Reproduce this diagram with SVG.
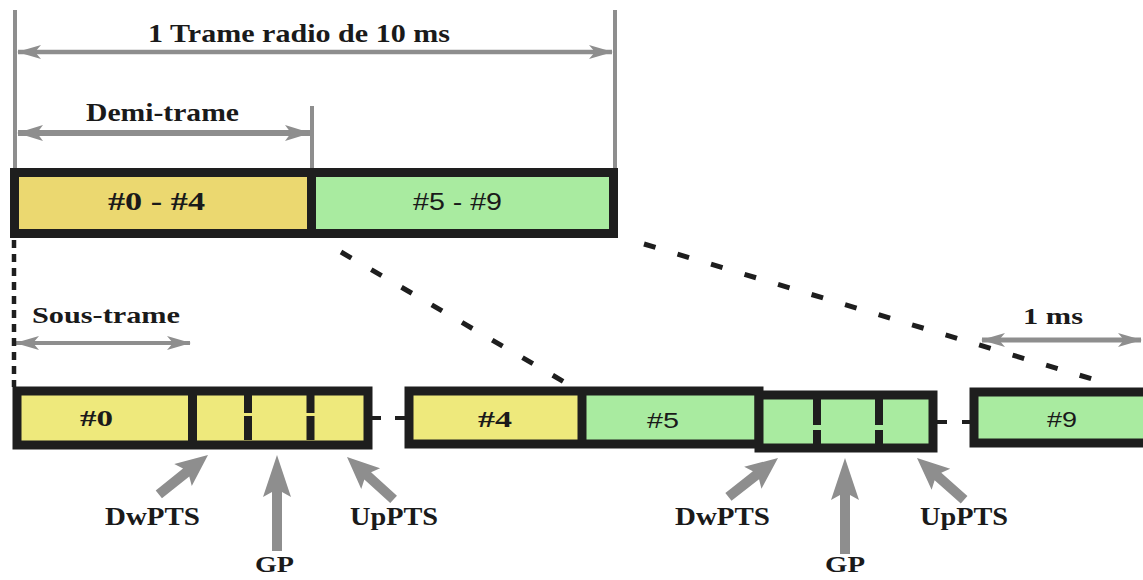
<svg xmlns="http://www.w3.org/2000/svg" width="1143" height="580" viewBox="0 0 1143 580">
<style>
.bg{fill:#ffffff}
.frm{stroke:#1e1e1e;stroke-width:9;}
.dv{stroke:#1e1e1e;stroke-width:9;}
.sdv{stroke:#1e1e1e;stroke-width:8;}
.y1{fill:#EBD870}
.y2{fill:#EEE97C}
.g{fill:#A9EBA0}
.gl{stroke:#8e8e8e;stroke-width:4;fill:none}
.dim{stroke:#8e8e8e;fill:none}
.dot{stroke:#1e1e1e;stroke-width:5;fill:none;stroke-dasharray:12 23}
.vdot{stroke:#1e1e1e;stroke-width:4.5;fill:none;stroke-dasharray:8 6}
.lnk{stroke:#1e1e1e;stroke-width:4}
.fat{fill:#8e8e8e}
.t{font-family:"Liberation Serif","Times New Roman",serif;font-weight:bold;fill:#1a1a1a}
.s{font-family:"Liberation Sans",Arial,sans-serif;fill:#1a1a1a}
</style>
<defs>
<marker id="ah" viewBox="0 0 24 14" refX="23" refY="7" markerWidth="24" markerHeight="14" markerUnits="userSpaceOnUse" orient="auto-start-reverse">
<path d="M0,0 L24,7 L0,14 L6,7 Z" fill="#8e8e8e"/>
</marker>
<marker id="ah2" viewBox="0 0 26 16" refX="25" refY="8" markerWidth="26" markerHeight="16" markerUnits="userSpaceOnUse" orient="auto-start-reverse">
<path d="M0,0 L26,8 L0,16 L6,8 Z" fill="#8e8e8e"/>
</marker>
<path id="diagA" d="M0,0 L14,32 L5,28 L5,63 L-5,63 L-5,28 L-14,32 Z"/>
<path id="gpA" d="M0,0 L14,42 L5,37 L5,96 L-5,96 L-5,37 L-14,42 Z"/>
</defs>
<rect class="bg" x="0" y="0" width="1143" height="580"/>

<g id="dimensions">
<line class="gl" x1="15" y1="10" x2="15" y2="168"/>
<line class="gl" x1="615" y1="10" x2="615" y2="168"/>
<line class="gl" x1="312" y1="106" x2="312" y2="168"/>
<line class="dim" x1="18" y1="52" x2="612" y2="52" stroke-width="4.5" marker-start="url(#ah)" marker-end="url(#ah)"/>
<text class="t" x="148" y="42" font-size="26" textLength="302" lengthAdjust="spacingAndGlyphs">1 Trame radio de 10 ms</text>
<line class="dim" x1="18" y1="133" x2="310" y2="133" stroke-width="6" marker-start="url(#ah2)" marker-end="url(#ah2)"/>
<text class="t" x="86" y="121" font-size="25" textLength="153" lengthAdjust="spacingAndGlyphs">Demi-trame</text>
<line class="dim" x1="16" y1="343" x2="190" y2="343" stroke-width="4" marker-start="url(#ah)" marker-end="url(#ah)"/>
<text class="t" x="32" y="323" font-size="24" textLength="148" lengthAdjust="spacingAndGlyphs">Sous-trame</text>
<line class="dim" x1="982" y1="340" x2="1141" y2="340" stroke-width="5" marker-start="url(#ah)" marker-end="url(#ah)"/>
<text class="t" x="1023" y="324" font-size="24" textLength="60" lengthAdjust="spacingAndGlyphs">1 ms</text>
</g>

<g id="radio-frame">
<rect class="y1" x="19" y="177" width="290" height="53"/>
<rect class="g" x="312" y="177" width="297" height="53"/>
<rect class="frm" x="14.5" y="172.5" width="599" height="61" fill="none"/>
<line class="dv" x1="311.5" y1="172" x2="311.5" y2="234"/>
<text class="t" x="108" y="210" font-size="25" textLength="97" lengthAdjust="spacingAndGlyphs">#0 - #4</text>
<text class="s" x="413" y="210" font-size="24" textLength="89" lengthAdjust="spacingAndGlyphs">#5 - #9</text>
</g>

<g id="connectors">
<line class="vdot" x1="14" y1="240" x2="14" y2="387"/>
<line class="dot" x1="341" y1="252" x2="566" y2="383"/>
<line class="dot" x1="644" y1="244" x2="1112" y2="385"/>
<line class="lnk" x1="372" y1="418" x2="381" y2="418"/>
<line class="lnk" x1="395" y1="418" x2="405" y2="418"/>
<line class="lnk" x1="937" y1="422" x2="947" y2="422"/>
<line class="lnk" x1="962" y1="422" x2="972" y2="422"/>
</g>

<g id="subframe-0">
<rect class="y2" x="21" y="395" width="347" height="50"/>
<rect class="frm" x="17" y="391" width="351" height="54" stroke-width="8" fill="none"/>
<line class="dv" x1="192.5" y1="391" x2="192.5" y2="445" stroke-width="10"/>
<line class="sdv" x1="248" y1="395" x2="248" y2="445" stroke-dasharray="18 3 24 10"/>
<line class="sdv" x1="310.5" y1="395" x2="310.5" y2="445" stroke-dasharray="18 3 24 10"/>
<text class="t" x="80" y="426" font-size="24" textLength="33" lengthAdjust="spacingAndGlyphs">#0</text>
</g>

<g id="subframe-4-5">
<rect class="y2" x="413" y="395" width="169" height="49"/>
<rect class="g" x="582" y="395" width="177" height="49"/>
<rect class="frm" x="409" y="391" width="350" height="53" stroke-width="8" fill="none"/>
<line class="dv" x1="582" y1="391" x2="582" y2="444" stroke-width="8"/>
<text class="t" x="478" y="427" font-size="24" textLength="34" lengthAdjust="spacingAndGlyphs">#4</text>
<text class="s" x="647" y="428" font-size="22" textLength="32" lengthAdjust="spacingAndGlyphs">#5</text>
</g>

<g id="special-subframe">
<rect class="g" x="763" y="399" width="170" height="49"/>
<rect class="frm" x="759" y="395" width="174" height="53" stroke-width="8" fill="none"/>
<line class="sdv" x1="817" y1="399" x2="817" y2="448" stroke-dasharray="26 5 30 10"/>
<line class="sdv" x1="879" y1="399" x2="879" y2="448" stroke-dasharray="26 5 30 10"/>
</g>

<g id="subframe-9">
<rect class="g" x="978" y="396" width="170" height="47"/>
<rect class="frm" x="974" y="392" width="200" height="51" stroke-width="8" fill="none"/>
<text class="s" x="1047" y="427" font-size="22" textLength="30" lengthAdjust="spacingAndGlyphs">#9</text>
</g>

<g id="pointers-left">
<use href="#diagA" class="fat" transform="translate(208,455) rotate(51.3)"/>
<use href="#gpA" class="fat" transform="translate(277,455)"/>
<use href="#diagA" class="fat" transform="translate(347,457) rotate(-47.7)"/>
<text class="t" x="105" y="525" font-size="26" textLength="95" lengthAdjust="spacingAndGlyphs">DwPTS</text>
<text class="t" x="255" y="572" font-size="24" textLength="39" lengthAdjust="spacingAndGlyphs">GP</text>
<text class="t" x="350" y="525" font-size="26" textLength="88" lengthAdjust="spacingAndGlyphs">UpPTS</text>
</g>

<g id="pointers-right">
<use href="#diagA" class="fat" transform="translate(778,458) rotate(51.9)"/>
<use href="#gpA" class="fat" transform="translate(845,458)"/>
<use href="#diagA" class="fat" transform="translate(917,458) rotate(-48.4)"/>
<text class="t" x="675" y="525" font-size="26" textLength="95" lengthAdjust="spacingAndGlyphs">DwPTS</text>
<text class="t" x="825" y="572" font-size="24" textLength="40" lengthAdjust="spacingAndGlyphs">GP</text>
<text class="t" x="920" y="525" font-size="26" textLength="88" lengthAdjust="spacingAndGlyphs">UpPTS</text>
</g>
</svg>
